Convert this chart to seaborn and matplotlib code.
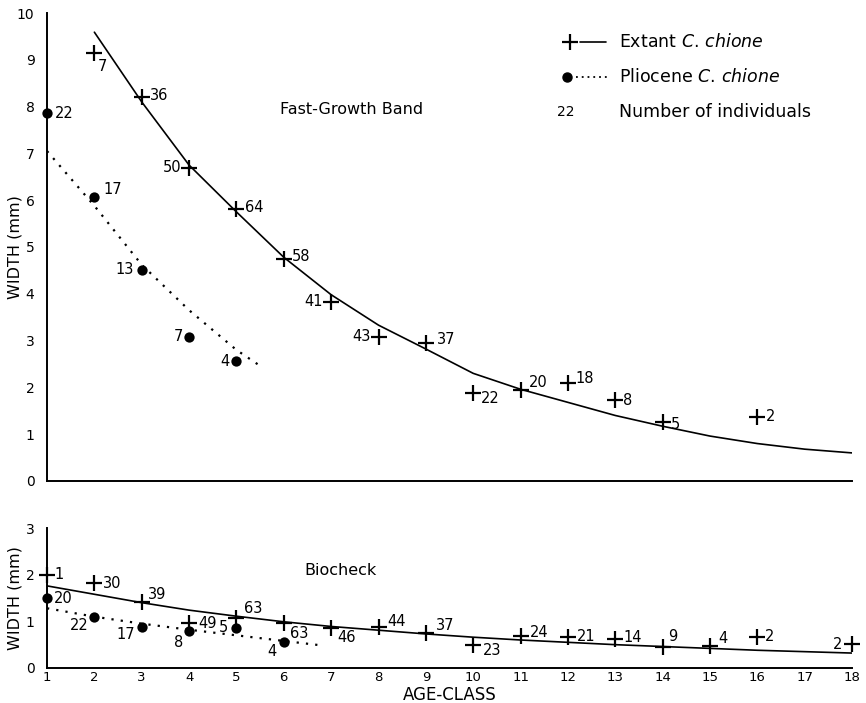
import numpy as np
import matplotlib
matplotlib.use("Agg")
import matplotlib.pyplot as plt
from matplotlib.lines import Line2D
import seaborn as sns

# --- Fast-growth band (top panel) ---
ext_age_top = [2, 3, 4, 5, 6, 7, 8, 9, 10, 11, 12, 13, 14, 16]
ext_width_top = [9.15, 8.2, 6.69, 5.81, 4.74, 3.83, 3.08, 2.95, 1.88, 1.94, 2.09, 1.73, 1.26, 1.37]
ext_n_top = ["7", "36", "50", "64", "58", "41", "43", "37", "22", "20", "18", "8", "5", "2"]

plio_age_top = [1, 2, 3, 4, 5]
plio_width_top = [7.86, 6.07, 4.51, 3.08, 2.56]
plio_n_top = ["22", "17", "13", "7", "4"]

# fitted curves
ext_fit_age_top = [2, 3, 4, 5, 6, 7, 8, 9, 10, 11, 12, 13, 14, 15, 16, 17, 18]
ext_fit_top = [9.59, 8.1, 6.75, 5.75, 4.78, 3.98, 3.33, 2.82, 2.3, 1.96, 1.68, 1.4, 1.17, 0.96, 0.8, 0.68, 0.6]
plio_fit_age_top = [1, 2, 3, 4, 5, 5.5]
plio_fit_top = [7.05, 5.88, 4.62, 3.65, 2.8, 2.46]

# --- Biocheck (bottom panel) ---
ext_age_bot = [1, 2, 3, 4, 5, 6, 7, 8, 9, 10, 11, 12, 13, 14, 15, 16, 18]
ext_width_bot = [2.0, 1.82, 1.41, 0.96, 1.07, 0.96, 0.86, 0.88, 0.75, 0.49, 0.69, 0.66, 0.62, 0.45, 0.47, 0.66, 0.51]
ext_n_bot = ["1", "30", "39", "49", "63", "63", "46", "44", "37", "23", "24", "21", "14", "9", "4", "2", "2"]

plio_age_bot = [1, 2, 3, 4, 5, 6]
plio_width_bot = [1.5, 1.09, 0.88, 0.79, 0.86, 0.56]
plio_n_bot = ["20", "22", "17", "8", "5", "4"]

ext_fit_age_bot = [1, 2, 3, 4, 5, 6, 7, 8, 9, 10, 11, 12, 13, 14, 15, 16, 17, 18]
ext_fit_bot = [1.76, 1.58, 1.4, 1.24, 1.11, 0.99, 0.89, 0.81, 0.73, 0.66, 0.6, 0.55, 0.5, 0.46, 0.42, 0.38, 0.35, 0.32]
plio_fit_age_bot = [1, 2, 3, 4, 5, 6, 6.75]
plio_fit_bot = [1.28, 1.1, 0.95, 0.82, 0.7, 0.58, 0.49]

ages = list(range(1, 19))

# label offsets (pixels) and alignment
ext_off_top = [(3, -14, "left"), (8, 2, "left"), (-8, 0, "right"), (9, 2, "left"), (8, 3, "left"),
               (-8, 0, "right"), (-8, 0, "right"), (11, 3, "left"), (8, -5, "left"), (8, 8, "left"),
               (8, 5, "left"), (8, 0, "left"), (8, -2, "left"), (9, 0, "left")]
plio_off_top = [(8, 0, "left"), (9, 7, "left"), (-8, 0, "right"), (-6, 0, "right"), (-7, 0, "right")]
ext_off_bot = [(7, 0, "left"), (9, 0, "left"), (6, 8, "left"), (9, 0, "left"), (8, 10, "left"),
               (6, -10, "left"), (6, -10, "left"), (9, 5, "left"), (10, 7, "left"), (10, -5, "left"),
               (9, 3, "left"), (9, 1, "left"), (8, 2, "left"), (5, 10, "left"), (8, 8, "left"),
               (8, 1, "left"), (-10, 0, "right")]
plio_off_bot = [(7, 0, "left"), (-6, -8, "right"), (-7, -8, "right"), (-6, -11, "right"),
                (-8, 0, "right"), (-7, -10, "right")]

sns.set_theme(style="white")
plt.rcParams["font.family"] = ["DejaVu Sans"]
plt.rcParams["mathtext.fontset"] = "dejavusans"
plt.rcParams["text.color"] = "black"
plt.rcParams["axes.labelcolor"] = "black"
plt.rcParams["xtick.color"] = "black"
plt.rcParams["ytick.color"] = "black"

fig = plt.figure(figsize=(8.66, 7.03), dpi=100)
ax1 = fig.add_axes([0.0543, 0.3158, 0.9296, 0.6657])
ax2 = fig.add_axes([0.0543, 0.0498, 0.9296, 0.1991])

dots = (0, (1, 3.2))


def panel(ax, ea, ew, en, eo, pa, pw, pn, po, efa, ef, pfa, pf):
    sns.lineplot(x=efa, y=ef, ax=ax, color="black", linewidth=1.2)
    sns.lineplot(x=pfa, y=pf, ax=ax, color="black", linewidth=1.6, linestyle=dots)
    sns.scatterplot(x=ea, y=ew, ax=ax, marker="+", s=130, color="black",
                    linewidth=1.6, clip_on=False, zorder=5)
    sns.scatterplot(x=pa, y=pw, ax=ax, marker="o", s=55, color="black",
                    edgecolor="black", linewidth=0, clip_on=False, zorder=5)
    for x, y, t, (dx, dy, ha) in zip(ea, ew, en, eo):
        ax.annotate(t, (x, y), xytext=(dx, dy), textcoords="offset pixels",
                    ha=ha, va="center", fontsize=10.5, color="black")
    for x, y, t, (dx, dy, ha) in zip(pa, pw, pn, po):
        ax.annotate(t, (x, y), xytext=(dx, dy), textcoords="offset pixels",
                    ha=ha, va="center", fontsize=10.5, color="black")
    ax.set_xlim(1, 18)
    for s in ["top", "right"]:
        ax.spines[s].set_visible(False)
    for s in ["left", "bottom"]:
        ax.spines[s].set_color("black")
        ax.spines[s].set_linewidth(1.4)
    ax.set_xticks(ages)
    ax.tick_params(direction="in", length=7, width=1.3, colors="black", labelsize=10)
    ax.tick_params(axis="y", pad=9)
    ax.set_ylabel("WIDTH (mm)", fontsize=11.5)


panel(ax1, ext_age_top, ext_width_top, ext_n_top, ext_off_top,
      plio_age_top, plio_width_top, plio_n_top, plio_off_top,
      ext_fit_age_top, ext_fit_top, plio_fit_age_top, plio_fit_top)
ax1.set_ylim(0, 10)
ax1.set_yticks(range(0, 11))
ax1.set_xticklabels([])
ax1.yaxis.set_label_coords(-0.031, 0.5)
ax1.text(0.289, 0.793, "Fast-Growth Band", transform=ax1.transAxes,
         fontsize=11.5, ha="left", va="center")

panel(ax2, ext_age_bot, ext_width_bot, ext_n_bot, ext_off_bot,
      plio_age_bot, plio_width_bot, plio_n_bot, plio_off_bot,
      ext_fit_age_bot, ext_fit_bot, plio_fit_age_bot, plio_fit_bot)
ax2.set_ylim(0, 3)
ax2.set_yticks(range(0, 4))
ax2.tick_params(axis="x", pad=2, labelsize=9.5)
ax2.set_xlabel("AGE-CLASS", fontsize=12)
ax2.xaxis.label.set_va("center")
ax2.xaxis.set_label_coords(0.5, -0.19)
ax2.yaxis.set_label_coords(-0.031, 0.5)
ax2.text(0.32, 0.70, "Biocheck", transform=ax2.transAxes,
         fontsize=11.5, ha="left", va="center")

# legend drawn by hand
ly = [1 - 42 / 703, 1 - 77 / 703, 1 - 112 / 703]
fig.add_artist(Line2D([570 / 866], [ly[0]], marker="+", markersize=11, mew=1.6,
                      color="black", transform=fig.transFigure))
fig.add_artist(Line2D([580 / 866, 606 / 866], [ly[0], ly[0]], color="black", lw=1.2,
                      transform=fig.transFigure))
fig.add_artist(Line2D([567 / 866], [ly[1]], marker="o", markersize=6.5, color="black",
                      linestyle="none", transform=fig.transFigure))
fig.add_artist(Line2D([576 / 866, 608 / 866], [ly[1], ly[1]], color="black", lw=1.3,
                      linestyle=(0, (1, 2.2)), transform=fig.transFigure))
fig.text(566 / 866, ly[2], "22", fontsize=10, ha="center", va="center")
fig.text(619 / 866, ly[0], r"Extant $\it{C.\,chione}$", fontsize=12.5, va="center")
fig.text(619 / 866, ly[1], r"Pliocene $\it{C.\,chione}$", fontsize=12.5, va="center")
fig.text(619 / 866, ly[2], "Number of individuals", fontsize=12.5, va="center")

fig.savefig("out.png", dpi=100, facecolor="white")
